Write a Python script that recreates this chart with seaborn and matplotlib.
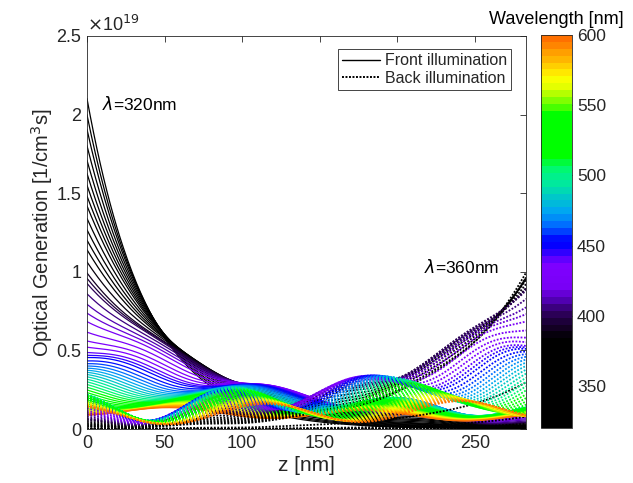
import numpy as np
import pandas as pd
import matplotlib
matplotlib.use("Agg")
import matplotlib.pyplot as plt
import seaborn as sns
from matplotlib.colors import ListedColormap, LinearSegmentedColormap, Normalize
from matplotlib.cm import ScalarMappable
from matplotlib.lines import Line2D

sns.set_theme(style="white")
plt.rcParams["font.family"] = ["Liberation Sans", "DejaVu Sans"]
plt.rcParams["mathtext.fontset"] = "dejavusans"

# ---- data -------------------------------------------------------------
wavelengths = list(range(320, 601, 5))          # nm
# absorption length 1/alpha of the absorber layer (nm)
absorption_length = [39, 41, 43, 45.5, 48, 50.5, 53, 55.5, 58, 61.5,
                     65, 68.5, 72, 77, 82, 84.5, 87, 93, 100, 107,
                     115, 127, 140, 152, 165, 175, 185, 200, 215, 230,
                     245, 260, 275, 290, 305, 320, 335, 350, 365, 380,
                     395, 410, 425, 440, 455, 470, 485, 500, 515, 530,
                     545, 560, 575, 590, 610, 630, 650]
# transmission of the rear-side stack for back illumination
back_transmission = [0.0, 0.0, 0.002, 0.005, 0.01, 0.02, 0.05, 0.2, 0.7, 0.72,
                     0.76, 0.8, 0.84, 0.88, 0.92, 0.95, 0.97, 0.98, 0.99, 1.0] + [1.0] * 37
thickness = 283.0          # nm
refractive_index = 2.4
photon_flux = 8.2e13       # photons / (cm^2 s) per wavelength bin
r_front = 0.42 * np.exp(-0.5j)  # internal reflection at z = 0
r_back = 0.2 * np.exp(-1.1j)    # internal reflection at z = d

z = np.linspace(0, thickness, 400)


def generation(lam, L, flux, r_far, r_near, depth):
    kappa = lam / (4 * np.pi * L)
    k = 2 * np.pi * (refractive_index - 1j * kappa) / lam
    field = (np.exp(-1j * k * depth) + r_far * np.exp(-1j * k * (2 * thickness - depth))) \
        / (1 - r_near * r_far * np.exp(-2j * k * thickness))
    return flux / (L * 1e-7) * np.abs(field) ** 2 / 1e19


rows = []
for lam, L, T in zip(wavelengths, absorption_length, back_transmission):
    gf = generation(lam, L, photon_flux, r_back, r_front, z)
    gb = generation(lam, L, photon_flux * T, r_front, r_back, thickness - z)
    rows.append(pd.DataFrame({"z": z, "G": gf, "wavelength": lam, "illumination": "Front illumination"}))
    rows.append(pd.DataFrame({"z": z, "G": gb, "wavelength": lam, "illumination": "Back illumination"}))
df = pd.concat(rows, ignore_index=True)

# ---- colormap ---------------------------------------------------------
anchors = [(320, "#000000"), (382, "#000000"), (390, "#120022"), (400, "#2a0055"),
           (410, "#5000b0"), (418, "#7800f5"), (435, "#7f00ff"), (442, "#5000ff"),
           (450, "#0000ff"), (456, "#0010ff"), (465, "#0070ff"), (475, "#00a8f0"),
           (485, "#00c8c8"), (495, "#00e8a0"), (505, "#00f878"), (515, "#00ff00"),
           (545, "#00ff00"), (555, "#80ff00"), (565, "#e0ff00"), (572, "#ffff00"),
           (580, "#ffd000"), (590, "#ffa000"), (600, "#ff7000")]
base = LinearSegmentedColormap.from_list(
    "spec", [((w - 320) / 280, c) for w, c in anchors])
cmap = ListedColormap(base(np.linspace(0, 1, 57)))
norm = Normalize(320, 600)

# ---- figure -----------------------------------------------------------
fig = plt.figure(figsize=(6.33, 4.83), dpi=100)
ax = fig.add_axes([0.1374, 0.1118, 0.6936, 0.8137])
cax = fig.add_axes([0.8547, 0.1139, 0.049, 0.8137])

front = df[df["illumination"] == "Front illumination"]
back = df[df["illumination"] == "Back illumination"]
sns.lineplot(data=front, x="z", y="G", hue="wavelength", palette=cmap, hue_norm=norm,
             estimator=None, sort=False, legend=False, linewidth=0.9, ax=ax)
sns.lineplot(data=back, x="z", y="G", hue="wavelength", palette=cmap, hue_norm=norm,
             estimator=None, sort=False, legend=False, linewidth=1.3,
             linestyle=(0, (1, 0.9)), ax=ax)

ink = "#262626"
ax.set_xlim(0, thickness)
ax.set_ylim(0, 2.5)
ax.set_xticks([0, 50, 100, 150, 200, 250])
ax.set_yticks([0, 0.5, 1, 1.5, 2, 2.5])
ax.set_yticklabels(["0", "0.5", "1", "1.5", "2", "2.5"])
ax.tick_params(direction="in", length=4, width=0.6, colors=ink, labelsize=13,
               top=True, right=True, labelcolor=ink, pad=4)
for s in ax.spines.values():
    s.set_color(ink)
    s.set_linewidth(0.6)
ax.set_xlabel("z [nm]", fontsize=15, color=ink, labelpad=3)
ax.set_ylabel("Optical Generation [1/cm$^3$s]", fontsize=14.5, color=ink, labelpad=1)
ax.text(0.0, 1.003, r"$\times$10$^{19}$", transform=ax.transAxes, fontsize=13,
        color=ink, ha="left", va="bottom")

ax.text(10, 2.07, r"$\lambda$=320nm", fontsize=12.5, color="black", va="center")
ax.text(217, 1.03, r"$\lambda$=360nm", fontsize=12.5, color="black", va="center")

handles = [Line2D([], [], color="black", lw=1.0),
           Line2D([], [], color="black", lw=1.4, linestyle=(0, (1, 0.8)))]
leg = ax.legend(handles, ["Front illumination", "Back illumination"],
                loc="upper right", bbox_to_anchor=(0.966, 0.966), fontsize=11.5,
                frameon=True, fancybox=False, framealpha=1, edgecolor=ink,
                handlelength=2.4, handletextpad=0.3, borderpad=0.25, labelspacing=0.15,
                borderaxespad=0.0)
leg.get_frame().set_linewidth(0.6)

cb = fig.colorbar(ScalarMappable(norm=norm, cmap=cmap), cax=cax)
cb.set_ticks([350, 400, 450, 500, 550, 600])
cb.ax.tick_params(direction="in", length=4, width=0.6, colors=ink, labelsize=12.5)
cb.outline.set_edgecolor(ink)
cb.outline.set_linewidth(0.6)
cax.set_title("Wavelength [nm]", fontsize=13, color="black", pad=8, x=0.5)

fig.savefig("out.png", dpi=100)
